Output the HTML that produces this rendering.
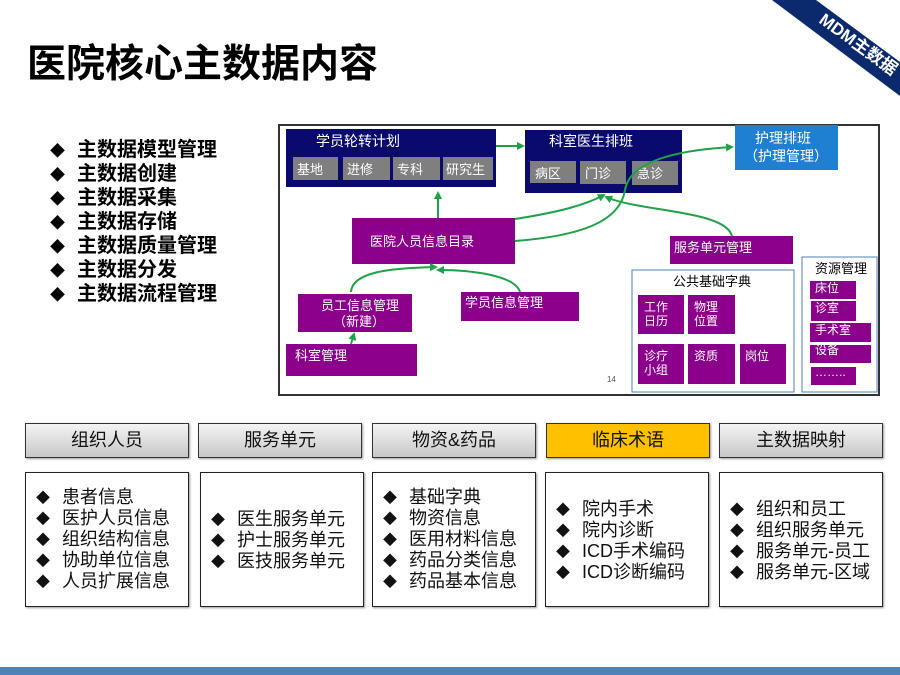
<!DOCTYPE html>
<html><head><meta charset="utf-8"><style>
*{margin:0;padding:0;box-sizing:border-box}
body{width:900px;height:675px;position:relative;background:#fff;overflow:hidden;font-family:"Liberation Sans","Noto Sans CJK SC",sans-serif}
.a{position:absolute}
.title{left:27px;top:33px;font-size:39px;font-weight:bold;color:#000}
.list{left:50px;top:138px;font-size:20px;font-weight:bold}
.list div{height:24px;line-height:24px;overflow:visible;white-space:nowrap}
.list span{display:inline-block;width:27px;font-size:15px}
.hd{top:423px;width:164px;height:35px;border:1px solid #333;background:linear-gradient(#f4f4f4,#c8c8c8);text-align:center;line-height:33px;font-size:18px;color:#111;box-shadow:1px 1px 2px #999}
.bx{top:472px;width:164px;height:135px;border:1px solid #222;font-size:18px;color:#111;box-shadow:1px 1px 2px #999;padding-left:10px}
.bx div{height:21px;line-height:21px;white-space:nowrap}
.bx span{display:inline-block;width:26px;font-size:14px}
</style></head><body>
<div class="a title">医院核心主数据内容</div>
<div class="a list">
<div><span>◆</span>主数据模型管理</div>
<div><span>◆</span>主数据创建</div>
<div><span>◆</span>主数据采集</div>
<div><span>◆</span>主数据存储</div>
<div><span>◆</span>主数据质量管理</div>
<div><span>◆</span>主数据分发</div>
<div><span>◆</span>主数据流程管理</div>
</div>

<svg class="a" style="left:0;top:0" width="900" height="675" font-family="Liberation Sans, Noto Sans CJK SC, sans-serif">
<polygon points="772,0 816,0 900,62 900,96" fill="#0b2a6e"/>
<text x="0" y="0" fill="#fff" font-size="17" font-weight="bold" transform="translate(818,22) rotate(36)">MDM主数据</text>

<rect x="279" y="125" width="600" height="270" fill="#fff" stroke="#333" stroke-width="2"/>
<g font-size="13" fill="#fff">
<rect x="286" y="129" width="210" height="58" fill="#0a0a6c"/>
<text x="316" y="146" font-size="14">学员轮转计划</text>
<rect x="293" y="157" width="45" height="23" fill="#7f7f7f"/><text x="297" y="174">基地</text>
<rect x="343" y="157" width="47" height="23" fill="#7f7f7f"/><text x="347" y="174">进修</text>
<rect x="393" y="157" width="47" height="23" fill="#7f7f7f"/><text x="397" y="174">专科</text>
<rect x="443" y="157" width="50" height="23" fill="#7f7f7f"/><text x="446" y="174">研究生</text>

<rect x="525" y="130" width="157" height="63" fill="#0a0a6c"/>
<text x="549" y="146" font-size="14">科室医生排班</text>
<rect x="530" y="161" width="46" height="22" fill="#7f7f7f"/><text x="535" y="178">病区</text>
<rect x="580" y="161" width="46" height="23" fill="#7f7f7f"/><text x="585" y="178">门诊</text>
<rect x="632" y="161" width="46" height="24" fill="#7f7f7f"/><text x="637" y="178">急诊</text>

<rect x="735" y="125" width="103" height="45" fill="#1f7fd0"/>
<text x="755" y="143" font-size="14">护理排班</text>
<text x="744" y="161" font-size="14">（护理管理）</text>

<rect x="352" y="218" width="163" height="46" fill="#8b008b"/><text x="370" y="246">医院人员信息目录</text>
<rect x="670" y="236" width="123" height="28" fill="#8b008b"/><text x="674" y="252">服务单元管理</text>
<rect x="298" y="294" width="114" height="38" fill="#8b008b"/><text x="321" y="310">员工信息管理</text><text x="333" y="326">（新建）</text>
<rect x="461" y="292" width="118" height="29" fill="#8b008b"/><text x="465" y="307">学员信息管理</text>
<rect x="286" y="344" width="131" height="32" fill="#8b008b"/><text x="295" y="360">科室管理</text>
</g>
<rect x="632" y="270" width="162" height="122" fill="none" stroke="#4f81bd" stroke-width="1"/>
<text x="673" y="286" font-size="13" fill="#000">公共基础字典</text>
<rect x="802" y="257" width="75" height="135" fill="none" stroke="#4f81bd" stroke-width="1"/>
<text x="815" y="273" font-size="13" fill="#000">资源管理</text>
<g font-size="12" fill="#fff">
<rect x="638" y="295" width="46" height="39" fill="#8b008b"/><text x="644" y="311">工作</text><text x="644" y="325">日历</text>
<rect x="688" y="295" width="47" height="39" fill="#8b008b"/><text x="694" y="311">物理</text><text x="694" y="325">位置</text>
<rect x="638" y="344" width="46" height="40" fill="#8b008b"/><text x="644" y="360">诊疗</text><text x="644" y="374">小组</text>
<rect x="688" y="344" width="47" height="40" fill="#8b008b"/><text x="694" y="360">资质</text>
<rect x="740" y="344" width="46" height="40" fill="#8b008b"/><text x="745" y="360">岗位</text>
<rect x="810" y="281" width="46" height="18" fill="#8b008b"/><text x="815" y="292">床位</text>
<rect x="811" y="301" width="45" height="20" fill="#8b008b"/><text x="815" y="312">诊室</text>
<rect x="810" y="323" width="61" height="19" fill="#8b008b"/><text x="815" y="334">手术室</text>
<rect x="810" y="345" width="61" height="18" fill="#8b008b"/><text x="815" y="354">设备</text>
<rect x="811" y="367" width="45" height="18" fill="#8b008b"/><text x="815" y="376">……..</text>
</g>
<text x="607" y="382" font-size="8" fill="#555">14</text>

<defs><marker id="m" markerWidth="8" markerHeight="8" refX="6" refY="4" orient="auto" markerUnits="userSpaceOnUse"><path d="M0,0 L8,4 L0,8z" fill="#1fa14a"/></marker></defs>
<g fill="none" stroke="#1fa14a" stroke-width="2" marker-end="url(#m)">
<path d="M496,146 L523,146"/>
<path d="M438,218 L438,193"/>
<path d="M515,219 C560,212 585,205 604,195"/>
<path d="M732,236 C725,210 640,212 606,197"/>
<path d="M515,241 C580,236 620,222 625,190 C630,160 680,150 732,147"/>
<path d="M351,292 C352,272 390,268 436,267"/>
<path d="M520,292 C515,275 470,270 438,270"/>
<path d="M351,344 L354,334"/>
</g>
</svg>

<div class="a hd" style="left:25px">组织人员</div>
<div class="a hd" style="left:198px">服务单元</div>
<div class="a hd" style="left:372px">物资&amp;药品</div>
<div class="a hd" style="left:546px;background:#ffc000">临床术语</div>
<div class="a hd" style="left:719px">主数据映射</div>

<div class="a bx" style="left:25px;padding-top:14px"><div><span>◆</span>患者信息</div><div><span>◆</span>医护人员信息</div><div><span>◆</span>组织结构信息</div><div><span>◆</span>协助单位信息</div><div><span>◆</span>人员扩展信息</div></div>
<div class="a bx" style="left:200px;padding-top:36px"><div><span>◆</span>医生服务单元</div><div><span>◆</span>护士服务单元</div><div><span>◆</span>医技服务单元</div></div>
<div class="a bx" style="left:372px;padding-top:14px"><div><span>◆</span>基础字典</div><div><span>◆</span>物资信息</div><div><span>◆</span>医用材料信息</div><div><span>◆</span>药品分类信息</div><div><span>◆</span>药品基本信息</div></div>
<div class="a bx" style="left:545px;padding-top:26px"><div><span>◆</span>院内手术</div><div><span>◆</span>院内诊断</div><div><span>◆</span>ICD手术编码</div><div><span>◆</span>ICD诊断编码</div></div>
<div class="a bx" style="left:719px;padding-top:26px"><div><span>◆</span>组织和员工</div><div><span>◆</span>组织服务单元</div><div><span>◆</span>服务单元-员工</div><div><span>◆</span>服务单元-区域</div></div>

<div class="a" style="left:0;top:667px;width:900px;height:8px;background:#4f81bd"></div>
</body></html>
